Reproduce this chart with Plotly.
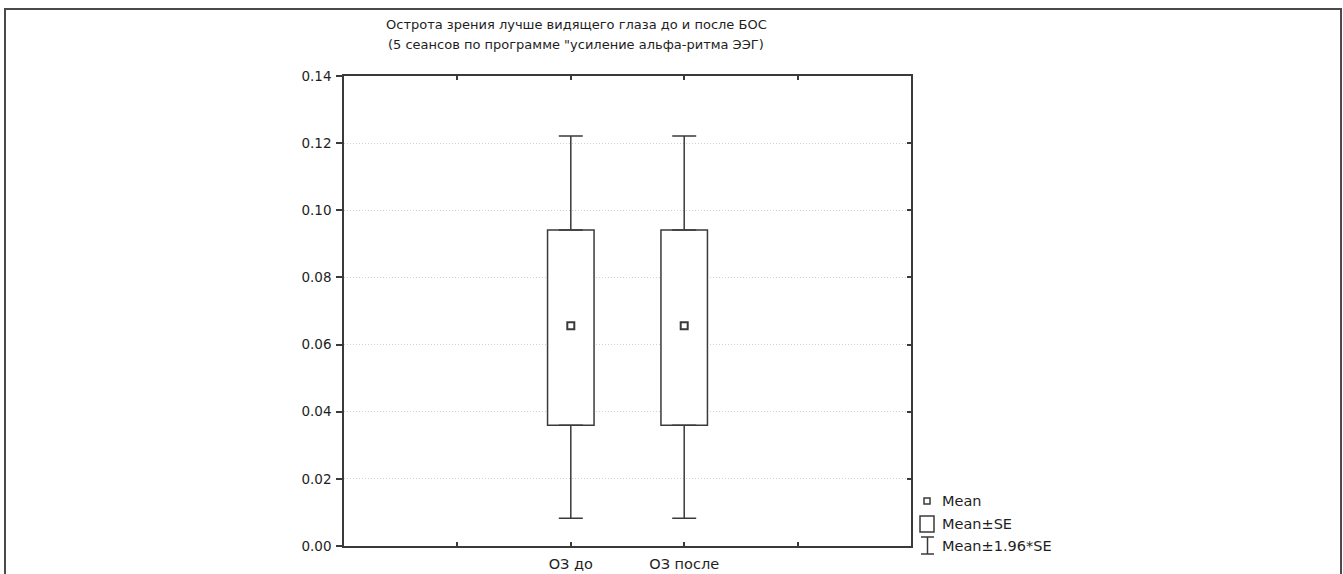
import plotly.graph_objects as go

# ---- data ----
categories = ["ОЗ до", "ОЗ после"]
cat_pos = [2, 3]
means = [0.0656, 0.0656]
se_low = [0.0360, 0.0360]
se_high = [0.0941, 0.0941]
ci_low = [0.0083, 0.0083]
ci_high = [0.1221, 0.1221]
y_ticks = [0.00, 0.02, 0.04, 0.06, 0.08, 0.10, 0.12, 0.14]
x_ticks = [1, 2, 3, 4]
x_ticktext = ["", "ОЗ до", "ОЗ после", ""]
title_lines = ["Острота зрения лучше видящего глаза до и после БОС",
               "(5 сеансов по программе \"усиление альфа-ритма ЭЭГ)"]
legend_labels = ["Mean", "Mean±SE", "Mean±1.96*SE"]

INK = "#3a3a3a"
TXT = "#1e1e1e"
FONT = "DejaVu Sans, Liberation Sans, Arial, sans-serif"
FS = 13.5
W, H = 1343, 574
ML, MR, MT, MB = 344, 432, 76, 28
PW, PH = W - ML - MR, H - MT - MB


def px_x(px):
    return (px - ML) / PW


def px_y(py):
    return (H - MB - py) / PH


fig = go.Figure()

# Mean ± SE boxes
fig.add_trace(go.Bar(
    x=cat_pos, base=se_low,
    y=[h - l for h, l in zip(se_high, se_low)],
    width=0.41,
    marker=dict(color="white", line=dict(color=INK, width=1.5)),
    showlegend=False, hoverinfo="skip",
))

# upper whiskers (Mean + 1.96*SE)
fig.add_trace(go.Scatter(
    x=cat_pos, y=se_high, mode="markers",
    marker=dict(size=1, color="rgba(0,0,0,0)"),
    error_y=dict(type="data", symmetric=False,
                 array=[c - h for c, h in zip(ci_high, se_high)],
                 arrayminus=[0, 0], color=INK, thickness=1.5, width=12),
    showlegend=False, hoverinfo="skip",
))
# lower whiskers (Mean - 1.96*SE)
fig.add_trace(go.Scatter(
    x=cat_pos, y=se_low, mode="markers",
    marker=dict(size=1, color="rgba(0,0,0,0)"),
    error_y=dict(type="data", symmetric=False,
                 array=[0, 0],
                 arrayminus=[l - c for l, c in zip(se_low, ci_low)],
                 color=INK, thickness=1.5, width=12),
    showlegend=False, hoverinfo="skip",
))
# means
fig.add_trace(go.Scatter(
    x=cat_pos, y=means, mode="markers",
    marker=dict(symbol="square-open", size=7, color=INK, line=dict(width=2, color=INK)),
    showlegend=False, hoverinfo="skip",
))
# invisible trace on right axis so its ticks render
fig.add_trace(go.Scatter(x=[None], y=[None], yaxis="y2", showlegend=False, hoverinfo="skip"))

fig.update_layout(
    width=W, height=H, autosize=False,
    margin=dict(l=ML, r=MR, t=MT, b=MB, autoexpand=False),
    paper_bgcolor="white", plot_bgcolor="white",
    font=dict(family=FONT, size=FS, color=TXT),
    showlegend=False,
    xaxis=dict(range=[0, 5], tickvals=x_ticks, ticktext=x_ticktext,
               ticks="inside", ticklen=4, tickwidth=1.5, tickcolor=INK,
               showline=True, linecolor=INK, linewidth=1.5, mirror="ticks",
               showgrid=False, zeroline=False, automargin=False, ticklabelstandoff=4,
               tickfont=dict(family=FONT, size=14.5, color=TXT)),
    yaxis=dict(range=[0, 0.14], tickvals=y_ticks, tickformat=".2f",
               ticks="outside", ticklen=6, tickwidth=1.5, tickcolor=INK,
               showline=True, linecolor=INK, linewidth=1.5, mirror=True,
               showgrid=True, gridcolor="#d0d0d0", gridwidth=1, griddash="1px,2px",
               zeroline=False, automargin=False, ticklabelstandoff=2,
               tickfont=dict(family=FONT, size=FS, color=TXT)),
    yaxis2=dict(range=[0, 0.14], tickvals=y_ticks, overlaying="y", side="right",
                ticks="inside", ticklen=4, tickwidth=1.5, tickcolor=INK, automargin=False,
                showticklabels=False, showgrid=False, showline=False, zeroline=False),
)

# title
for line, py in zip(title_lines, [25, 45]):
    fig.add_annotation(text=line, xref="paper", yref="paper",
                       x=px_x(576), y=px_y(py), xanchor="center", yanchor="middle",
                       showarrow=False, font=dict(family=FONT, size=13, color=TXT))

# outer frame
fig.add_shape(type="rect", xref="paper", yref="paper",
              x0=px_x(5), x1=px_x(1341), y0=px_y(9), y1=px_y(700),
              line=dict(color="#4a4a4a", width=2), fillcolor="rgba(0,0,0,0)", layer="above")

# custom legend
leg_text_x = px_x(940)
leg_rows = [501, 524, 546]
for lab, py in zip(legend_labels, leg_rows):
    fig.add_annotation(text=lab, xref="paper", yref="paper", x=leg_text_x, y=px_y(py),
                       xanchor="left", yanchor="middle", showarrow=False,
                       font=dict(family=FONT, size=14.5, color=TXT))
# Mean icon: small square
fig.add_shape(type="rect", xref="paper", yref="paper",
              x0=px_x(924), x1=px_x(930), y0=px_y(498), y1=px_y(504),
              line=dict(color=INK, width=1.5))
# Mean±SE icon: box
fig.add_shape(type="rect", xref="paper", yref="paper",
              x0=px_x(920), x1=px_x(934), y0=px_y(516), y1=px_y(532),
              line=dict(color=INK, width=1.5))
# Mean±1.96*SE icon: I-beam
fig.add_shape(type="line", xref="paper", yref="paper",
              x0=px_x(921), x1=px_x(934), y0=px_y(537), y1=px_y(537),
              line=dict(color=INK, width=1.5))
fig.add_shape(type="line", xref="paper", yref="paper",
              x0=px_x(927.5), x1=px_x(927.5), y0=px_y(537), y1=px_y(554),
              line=dict(color=INK, width=1.5))
fig.add_shape(type="line", xref="paper", yref="paper",
              x0=px_x(921), x1=px_x(934), y0=px_y(554), y1=px_y(554),
              line=dict(color=INK, width=1.5))

fig.write_html("out.html", config={"displayModeBar": False},
               post_script="document.body.style.margin='0';document.body.style.overflow='hidden';")
